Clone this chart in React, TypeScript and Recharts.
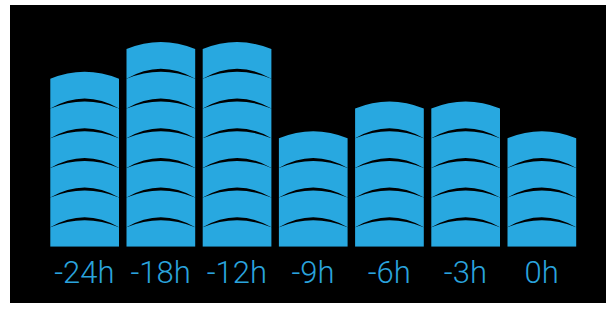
import { BarChart, Bar, XAxis, YAxis } from "recharts";

const hours = ["-24h", "-18h", "-12h", "-9h", "-6h", "-3h", "0h"];
const levels = [6, 7, 7, 4, 5, 5, 4];

const data = hours.map((hour, i) => ({ hour, level: levels[i] }));

// bottom segment is slightly cut off in the original
const DOMAIN_MIN = 0.11;
const SAG = 7;
const GAP = 3;
const BLUE = "#28a8e0";

const SegmentedBar = (props: any) => {
  const { x, y, width, height, value } = props;
  const n = Math.round(value);
  const base = y + height;
  const unit = height / (value - DOMAIN_MIN);
  const cx = x + width / 2;
  const boundary = (k: number) => (k === 0 ? base : base - (k - DOMAIN_MIN) * unit);

  const paths = [];
  for (let j = 0; j < n; j++) {
    const b0 = boundary(j);
    const b1 = j === n - 1 ? y : boundary(j + 1);
    let d = `M${x},${b1 + SAG} Q${cx},${b1 - SAG} ${x + width},${b1 + SAG}`;
    if (j === 0) {
      d += ` L${x + width},${b0} L${x},${b0} Z`;
    } else {
      d += ` L${x + width},${b0 + SAG} Q${cx},${2 * (b0 - GAP) - (b0 + SAG)} ${x},${b0 + SAG} Z`;
    }
    paths.push(<path key={j} d={d} fill={BLUE} />);
  }
  return <g>{paths}</g>;
};

const HourTick = (props: any) => {
  const { x, y, payload } = props;
  return (
    <text
      x={x}
      y={y + 36.5}
      textAnchor="middle"
      fill="#2aa3dc"
      style={{ fontFamily: "Roboto", fontWeight: 300, fontSize: 31 }}
    >
      {payload.value}
    </text>
  );
};

const App = () => {
  return (
    <div style={{ position: "absolute", left: 10, top: 5, width: 596, height: 298, background: "#000" }}>
      <BarChart
        width={596}
        height={298}
        data={data}
        margin={{ top: 37.1, right: 26.3, left: 36.3, bottom: 0 }}
      >
        <XAxis
          dataKey="hour"
          axisLine={false}
          tickLine={false}
          tickSize={0}
          tickMargin={0}
          height={56.3}
          interval={0}
          tick={<HourTick />}
        />
        <YAxis hide domain={[DOMAIN_MIN, 7]} allowDataOverflow />
        <Bar dataKey="level" barSize={68.7} shape={<SegmentedBar />} isAnimationActive={false} />
      </BarChart>
    </div>
  );
};

export default App;
